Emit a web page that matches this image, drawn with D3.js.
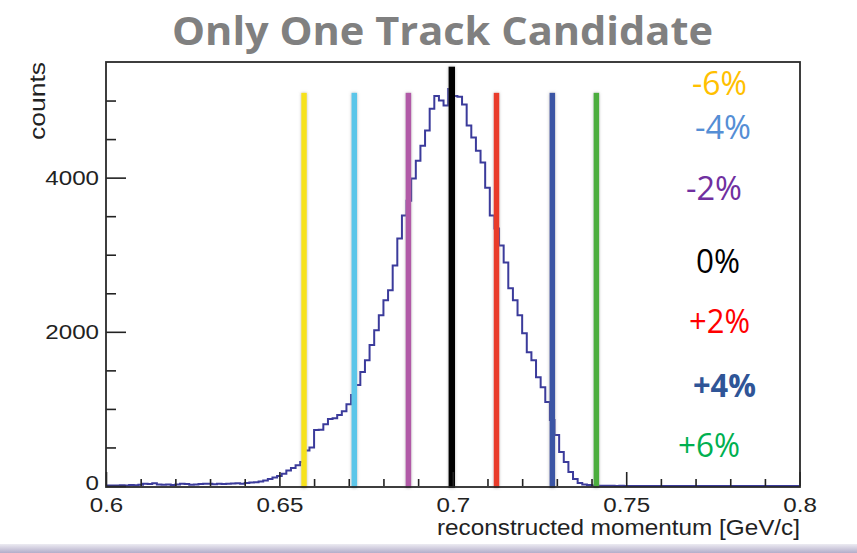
<!DOCTYPE html>
<html>
<head>
<meta charset="utf-8">
<script src="https://cdn.jsdelivr.net/npm/d3@7"></script>
<style>
  html, body { margin: 0; padding: 0; background: #ffffff; }
  svg { display: block; }
</style>
</head>
<body>
<svg id="chart" width="857" height="553"></svg>
<script>
// ---- data ----
const titleText = "Only One Track Candidate";
const xTitleText = "reconstructed momentum [GeV/c]";
const yTitleText = "counts";

const xDomain = [0.6, 0.8];
const yDomain = [0, 5500];
const xTickValues = [0.6, 0.65, 0.7, 0.75, 0.8];
const xMinorTickValues = [0.61, 0.62, 0.63, 0.64, 0.66, 0.67, 0.68, 0.69,
                          0.71, 0.72, 0.73, 0.74, 0.76, 0.77, 0.78, 0.79];
const yTickValues = [0, 2000, 4000];
const yMinorTickValues = [500, 1000, 1500, 2500, 3000, 3500, 4500, 5000];

// histogram contents, 150 bins over 0.6 - 0.8 GeV/c
const counts = [
  5, 8, 6, 10, 8, 12, 10, 15, 30, 25,
  35, 20, 15, 18, 12, 20, 30, 25, 15, 20,
  25, 30, 28, 22, 30, 25, 28, 32, 35, 30,
  40, 45, 50, 60, 70, 90, 110, 130, 160, 200,
  235, 270, 310, 460, 500, 725, 730, 800, 870, 880,
  920, 970, 1060, 1180, 1310, 1480, 1630, 1830, 2020, 2215,
  2410, 2540, 2860, 3210, 3510, 3700, 3990, 4220, 4415, 4610,
  4895, 5060, 5000, 4935, 5150, 5060, 5050, 4950, 4675, 4520,
  4350, 4195, 3870, 3510, 3340, 3120, 2900, 2565, 2410, 2215,
  1980, 1735, 1630, 1410, 1280, 1090, 855, 660, 440, 310,
  180, 90, 40, 20, 12, 6, 4, 3, 2, 2,
  1, 2, 1, 0, 1, 1, 0, 1, 0, 0,
  1, 0, 0, 1, 0, 0, 0, 1, 0, 0,
  0, 0, 1, 0, 0, 0, 0, 0, 1, 0,
  0, 0, 0, 0, 0, 0, 1, 0, 0, 0
];

// momentum-scale markers and their labels
const markerMomenta = [0.6571, 0.6716, 0.6872, 0.6997, 0.7126, 0.7287, 0.7414];
const markerTops = [5100, 5100, 5100, 5440, 5100, 5100, 5100];
const shiftLabels = ["-6%", "-4%", "-2%", "0%", "+2%", "+4%", "+6%"];

// ---- styles & layout ----
const markerColors = ["#f6e21c", "#5cc6e9", "#b15aa7", "#000000", "#e93a29", "#3a54a4", "#4bad3e"];
const labelColors  = ["#FFC000", "#558ED5", "#7030A0", "#000000", "#FF0000", "#2F5597", "#00B050"];
const labelLayout = [
  { x: 692, y: 95,  w: 55, bold: false },
  { x: 695, y: 139, w: 56, bold: false },
  { x: 686, y: 200, w: 56, bold: false },
  { x: 696, y: 273, w: 44, bold: false },
  { x: 689, y: 333, w: 61, bold: false },
  { x: 693, y: 397, w: 63, bold: true  },
  { x: 678, y: 457, w: 62, bold: false }
];
const frame = { left: 106, right: 800, top: 62, bottom: 486 };
const rootFont = "'Liberation Sans', Arial, Helvetica, sans-serif";
const slideFont = "'Open Sans', 'Noto Sans', sans-serif";
const labelStretch = 1.15;

// ---- drawing ----
const svg = d3.select("#chart");

const defs = svg.append("defs");
const band = defs.append("linearGradient").attr("id", "band")
  .attr("x1", 0).attr("y1", 0).attr("x2", 0).attr("y2", 1);
band.append("stop").attr("offset", "0%").attr("stop-color", "#ecebf2");
band.append("stop").attr("offset", "100%").attr("stop-color", "#b3adc9");

// soft grey halo around the marker lines
const glow = defs.append("filter").attr("id", "glow")
  .attr("filterUnits", "userSpaceOnUse")
  .attr("x", 0).attr("y", 0).attr("width", 857).attr("height", 553);
glow.append("feGaussianBlur").attr("in", "SourceAlpha").attr("stdDeviation", 1.4).attr("result", "b");
glow.append("feFlood").attr("flood-color", "#808080").attr("flood-opacity", 0.55);
glow.append("feComposite").attr("in2", "b").attr("operator", "in").attr("result", "s");
const merge = glow.append("feMerge");
merge.append("feMergeNode").attr("in", "s");
merge.append("feMergeNode").attr("in", "SourceGraphic");

defs.append("clipPath").attr("id", "plotClip")
  .append("rect")
  .attr("x", frame.left).attr("y", frame.top - 6)
  .attr("width", frame.right - frame.left).attr("height", frame.bottom - frame.top + 8);

const x = d3.scaleLinear().domain(xDomain).range([frame.left, frame.right - 0.4]);
const y = d3.scaleLinear().domain(yDomain).range([frame.bottom, frame.top]);

// title
svg.append("text")
  .attr("x", 172).attr("y", 45)
  .attr("font-family", slideFont).attr("font-weight", 700)
  .attr("font-size", 40).attr("fill", "#808080")
  .attr("textLength", 541).attr("lengthAdjust", "spacingAndGlyphs")
  .text(titleText);

// histogram outline
const nBins = counts.length;
const binWidth = (xDomain[1] - xDomain[0]) / nBins;
const stepPoints = [];
counts.forEach((c, i) => {
  const lo = xDomain[0] + i * binWidth;
  stepPoints.push([lo, c], [lo + binWidth, c]);
});
const histLine = d3.line().x(d => x(d[0])).y(d => y(d[1]));

const plot = svg.append("g").attr("clip-path", "url(#plotClip)");
plot.append("path")
  .datum(stepPoints)
  .attr("d", histLine)
  .attr("fill", "none")
  .attr("stroke", "#3b3b9b")
  .attr("stroke-width", 2)
  .attr("stroke-linejoin", "miter");

// scale markers
const markerWidth = i => (i === 3 ? 6.5 : 5.5);
svg.append("g").attr("filter", "url(#glow)").selectAll("rect")
  .data(markerMomenta)
  .join("rect")
  .attr("x", (d, i) => x(d) - markerWidth(i) / 2)
  .attr("width", (d, i) => markerWidth(i))
  .attr("y", (d, i) => y(markerTops[i]))
  .attr("height", (d, i) => y(0) + 2 - y(markerTops[i]))
  .attr("fill", (d, i) => markerColors[i]);

// minor ticks
const yMinor = d3.axisLeft(y).tickValues(yMinorTickValues).tickSizeInner(-10).tickSizeOuter(0).tickFormat("");
const xMinor = d3.axisBottom(x).tickValues(xMinorTickValues).tickSizeInner(-7).tickSizeOuter(0).tickFormat("");
svg.append("g").attr("transform", `translate(${frame.left},0)`).call(yMinor)
  .call(g => g.select(".domain").remove())
  .selectAll("line").attr("stroke", "#222").attr("stroke-width", 1.6);
svg.append("g").attr("transform", `translate(0,${frame.bottom})`).call(xMinor)
  .call(g => g.select(".domain").remove())
  .selectAll("line").attr("stroke", "#222").attr("stroke-width", 1.6);

// major ticks and labels
const yAxis = d3.axisLeft(y).tickValues(yTickValues).tickSizeInner(-20).tickSizeOuter(0)
  .tickPadding(7).tickFormat(d3.format("d"));
const xAxis = d3.axisBottom(x).tickValues(xTickValues).tickSizeInner(-14).tickSizeOuter(0)
  .tickPadding(11).tickFormat(d => String(+d.toFixed(2)));

const gy = svg.append("g").attr("transform", `translate(${frame.left},0)`).call(yAxis);
gy.select(".domain").remove();
gy.selectAll("line").attr("stroke", "#222").attr("stroke-width", 1.6);
gy.selectAll("text")
  .attr("font-family", rootFont).attr("font-size", 21).attr("fill", "#222")
  .attr("transform", `scale(${labelStretch},1)`)
  .attr("x", -7 / labelStretch)
  .attr("dy", d => (d === 0 ? "0.18em" : "0.32em"));

const gx = svg.append("g").attr("transform", `translate(0,${frame.bottom})`).call(xAxis);
gx.select(".domain").remove();
gx.selectAll("line").attr("stroke", "#222").attr("stroke-width", 1.6);
gx.selectAll("text")
  .attr("font-family", rootFont).attr("font-size", 21).attr("fill", "#222")
  .attr("transform", `scale(${labelStretch},1)`);

// frame
svg.append("rect")
  .attr("x", frame.left).attr("y", frame.top)
  .attr("width", frame.right - frame.left).attr("height", frame.bottom - frame.top + 1)
  .attr("fill", "none").attr("stroke", "#2a2a2a").attr("stroke-width", 1.8);

// axis titles
svg.append("text")
  .attr("x", frame.right).attr("y", 535)
  .attr("text-anchor", "end")
  .attr("font-family", rootFont).attr("font-size", 22).attr("fill", "#222")
  .attr("textLength", 363).attr("lengthAdjust", "spacingAndGlyphs")
  .text(xTitleText);

svg.append("text")
  .attr("transform", `translate(45,${frame.top}) rotate(-90)`)
  .attr("text-anchor", "end")
  .attr("font-family", rootFont).attr("font-size", 22).attr("fill", "#222")
  .attr("textLength", 78).attr("lengthAdjust", "spacingAndGlyphs")
  .text(yTitleText);

// percentage labels
svg.append("g").selectAll("text")
  .data(shiftLabels)
  .join("text")
  .attr("x", (d, i) => labelLayout[i].x)
  .attr("y", (d, i) => labelLayout[i].y)
  .attr("font-family", slideFont)
  .attr("font-size", 32)
  .attr("font-weight", (d, i) => labelLayout[i].bold ? 700 : 400)
  .attr("fill", (d, i) => labelColors[i])
  .attr("textLength", (d, i) => labelLayout[i].w)
  .attr("lengthAdjust", "spacingAndGlyphs")
  .text(d => d);

// slide footer band
svg.append("rect")
  .attr("x", 0).attr("y", 544).attr("width", 857).attr("height", 9)
  .attr("fill", "url(#band)");
</script>
</body>
</html>
